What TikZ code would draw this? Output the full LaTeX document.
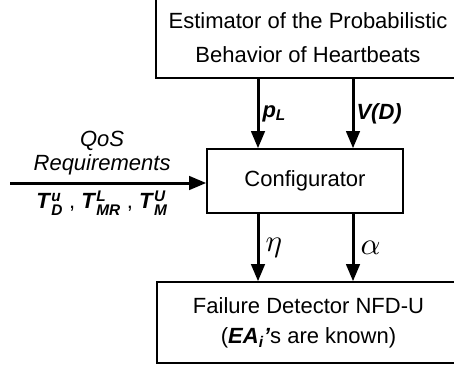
\documentclass[tikz,border=0pt]{standalone}
\usepackage{amsmath}
\usepackage{fontspec}
\setmainfont{Liberation Sans}
\usetikzlibrary{calc}
\usetikzlibrary{arrows}
\usetikzlibrary{positioning}
\DeclareFontShape{OML}{cmm}{m}{it}{<->cmmi10}{}
\DeclareMathSizes{22}{22}{15.4}{11}
\newcommand{\bi}[1]{\textbf{\textit{#1}}}

\begin{document}
\begin{tikzpicture}[x=1pt, y=-1pt, box/.style={rectangle, draw, line width=2pt, align=center, inner sep=0pt}]
    \tikzset{flow/.style={->, >=triangle 45, line width=3pt}}
    \tikzset{lbl/.style={inner sep=5pt, align=center}}
    \tikzset{greek/.style={inner sep=6pt, font=\fontsize{31}{31}\selectfont}}
    \fontsize{22}{34}\selectfont
    \useasboundingbox (0,0) rectangle (454,372);
    \def \la {258} \def \ra {353}
    \coordinate (la) at (\la,0);
    \coordinate (ra) at (\ra,0);
    \coordinate (req) at (10,183);

    \node[box, minimum width=305pt, minimum height=80pt] (est) at (308,38) {Estimator of the Probabilistic\\Behavior of Heartbeats};
    \node[box, minimum width=196pt, minimum height=64pt] (conf) at (305,181) {Configurator};
    \node[box, minimum width=303pt, minimum height=81pt, font=\fontsize{22}{30}\selectfont] (fd) at (308.5,322.5) {Failure Detector NFD-U\\(\bi{EA}$_{\bi{i}}$\bi{'}s are known)};

    % inputs of the configurator
    \draw[flow] (req) -- node[lbl, above, pos=0.47, inner sep=6pt, font=\fontsize{22}{24}\selectfont] (qos) {\textit{QoS}\\\textit{Requirements}}
        node[lbl, below, pos=0.47, inner sep=6pt] (tq) {\bi{T}$^{\bi{u}}_{\bi{D}}$ , \bi{T}$^{\bi{L}}_{\bi{MR}}$ , \bi{T}$^{\bi{U}}_{\bi{M}}$} (req -| conf.west);
    \draw[flow] (est.south -| la) -- node[lbl, right, inner sep=3pt] (pl) {\bi{p}$_{\bi{L}}$} (conf.north -| la);
    \draw[flow] (est.south -| ra) -- node[lbl, right, inner sep=2pt] (vd) {\bi{V(D)}} (conf.north -| ra);

    % outputs
    \draw[flow] (conf.south -| la) -- node[greek, right] (eta) {$\eta$} (fd.north -| la);
    \draw[flow] (conf.south -| ra) -- node[greek, right] (alpha) {$\alpha$} (fd.north -| ra);
\end{tikzpicture}
\end{document}
